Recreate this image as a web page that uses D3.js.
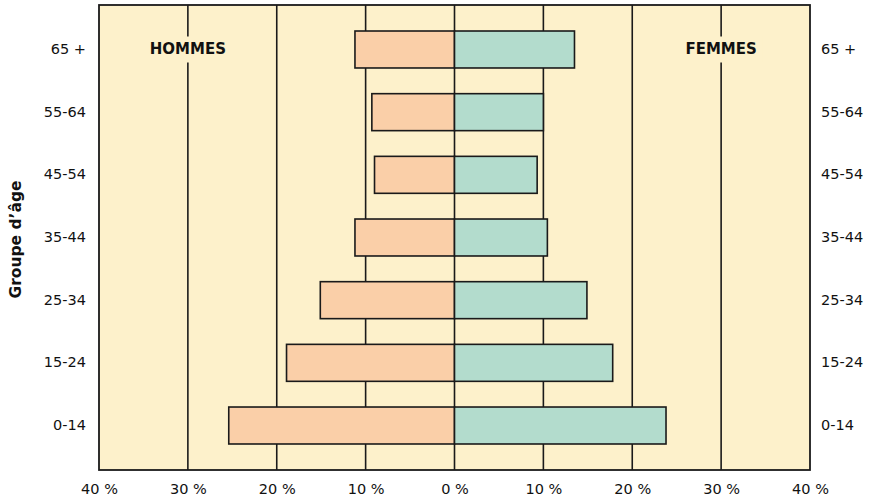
<!DOCTYPE html>
<html><head><meta charset="utf-8">
<script src="https://cdn.jsdelivr.net/npm/d3@7"></script>
<style>body{margin:0;background:#fff}svg{display:block}text{font-family:"DejaVu Sans",sans-serif}</style>
</head><body><svg id="c" width="870" height="499"></svg>
<script>
const ageGroups = ["65 +","55-64","45-54","35-44","25-34","15-24","0-14"];
const hommes = [11.2, 9.3, 9.0, 11.2, 15.1, 18.9, 25.4];
const femmes = [13.5, 10.0, 9.3, 10.45, 14.9, 17.8, 23.8];
const tickValues = [-40,-30,-20,-10,0,10,20,30,40];
const seriesLabels = ["HOMMES","FEMMES"];
const yTitle = "Groupe d\u2019âge";

const FONT = "'DejaVu Sans',sans-serif";
const svg = d3.select("#c");
const L = 99, R = 810, T = 5, B = 470;
const x = d3.scaleLinear().domain([-40,40]).range([L,R]);
const y = d3.scaleBand().domain(ageGroups).range([T,B]).paddingInner(0.41).paddingOuter(0.415);
const bg = "#fdf1cb";

svg.append("rect").attr("x",L).attr("y",T).attr("width",R-L).attr("height",B-T).attr("fill",bg);

// grid
svg.append("g").selectAll("line").data(tickValues.filter(d=>Math.abs(d)<40)).join("line")
  .attr("x1",d=>x(d)).attr("x2",d=>x(d)).attr("y1",T).attr("y2",B)
  .attr("stroke","#1a1a1a").attr("stroke-width",1.6);

// series labels with background
const labelPos = [-30,30];
seriesLabels.forEach((s,i)=>{
  const cy = y(ageGroups[0]) + y.bandwidth()/2;
  const t = svg.append("text").attr("x",x(labelPos[i])).attr("y",cy).attr("text-anchor","middle")
    .attr("dominant-baseline","central").attr("font-weight","bold").attr("font-size",15)
    .style("font-family",FONT).attr("fill","#111").text(s);
  const bb = t.node().getBBox();
  svg.insert("rect", () => t.node()).attr("x",bb.x-6).attr("y",bb.y-4).attr("width",bb.width+12).attr("height",bb.height+8).attr("fill",bg);
});

// bars
const g = svg.append("g");
g.selectAll(".m").data(ageGroups).join("rect")
  .attr("x",(d,i)=>x(-hommes[i])).attr("width",(d,i)=>x(0)-x(-hommes[i]))
  .attr("y",d=>y(d)).attr("height",y.bandwidth())
  .attr("fill","#facfa8").attr("stroke","#1a1a1a").attr("stroke-width",1.6);
g.selectAll(".f").data(ageGroups).join("rect")
  .attr("x",x(0)).attr("width",(d,i)=>x(femmes[i])-x(0))
  .attr("y",d=>y(d)).attr("height",y.bandwidth())
  .attr("fill","#b3dccd").attr("stroke","#1a1a1a").attr("stroke-width",1.6);

// border
svg.append("rect").attr("x",L).attr("y",T).attr("width",R-L).attr("height",B-T)
  .attr("fill","none").attr("stroke","#1a1a1a").attr("stroke-width",1.8);

// axes
const xAxis = d3.axisBottom(x).tickValues(tickValues).tickSize(0).tickPadding(14)
  .tickFormat(d=>Math.abs(d)+" %");
const ax = svg.append("g").attr("transform",`translate(0,${B})`).call(xAxis);
ax.select(".domain").remove();
ax.selectAll("text").attr("font-size",14.5).attr("fill","#111").style("font-family",FONT);

const yl = svg.append("g").attr("transform",`translate(${L},0)`).call(d3.axisLeft(y).tickSize(0).tickPadding(13));
yl.select(".domain").remove();
yl.selectAll("text").attr("font-size",14.5).attr("fill","#111").style("font-family",FONT);
const yr = svg.append("g").attr("transform",`translate(${R},0)`).call(d3.axisRight(y).tickSize(0).tickPadding(11));
yr.select(".domain").remove();
yr.selectAll("text").attr("font-size",14.5).attr("fill","#111").style("font-family",FONT);

svg.append("text").attr("transform",`translate(16,${(T+B)/2 + 2}) rotate(-90)`)
  .attr("text-anchor","middle").attr("dominant-baseline","central")
  .attr("font-weight","bold").attr("font-size",15.5).style("font-family",FONT).attr("fill","#111").text(yTitle);
</script></body></html>
